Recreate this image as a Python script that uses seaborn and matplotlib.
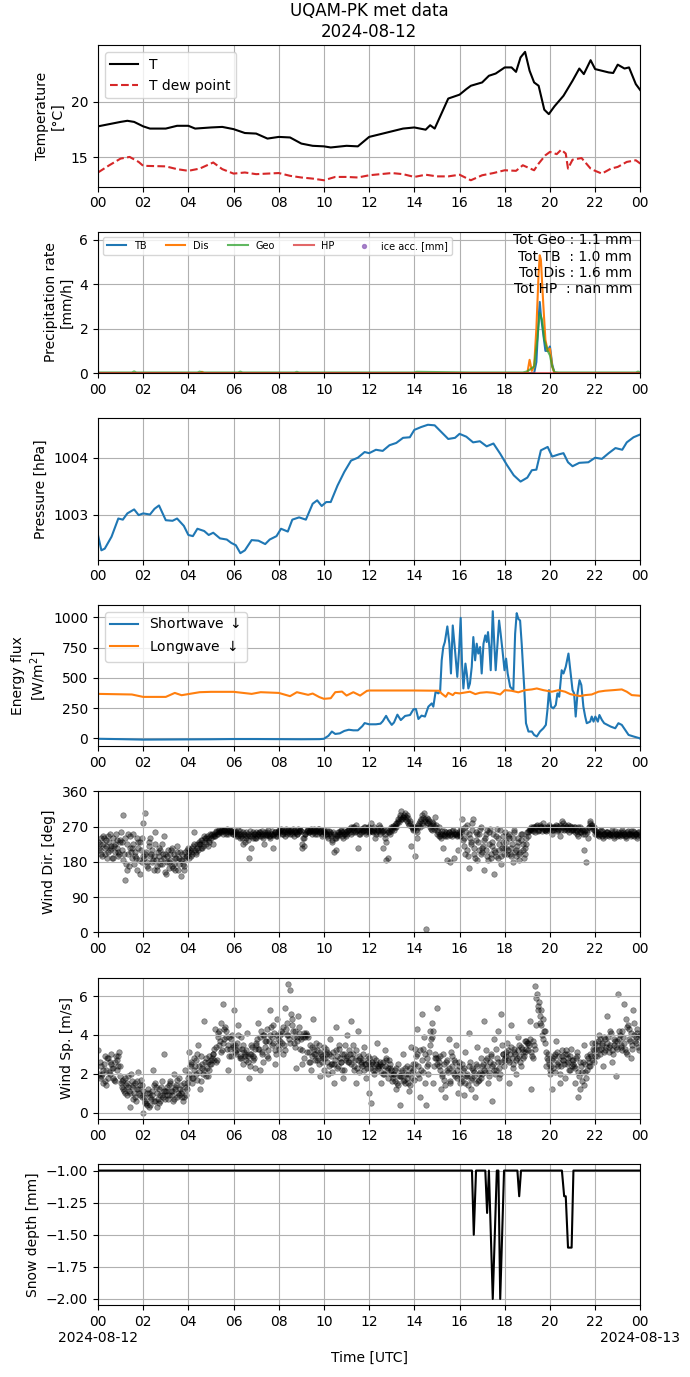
import numpy as np
import pandas as pd
import matplotlib
matplotlib.use("Agg")
import matplotlib.pyplot as plt
import matplotlib.dates as mdates
import matplotlib.ticker as mticker
import seaborn as sns

day = pd.Timestamp("2024-08-12")

# Temperature and dew point (hours, degC)
t_hours = [0, 0.5, 1, 1.3, 1.6, 2, 2.3, 3, 3.5, 4, 4.3, 5, 5.5, 6, 6.5, 7, 7.5, 8, 8.5, 9,
           9.5, 10, 10.3, 11, 11.5, 12, 12.5, 13, 13.5, 14, 14.5, 14.7, 14.9, 15.5, 16, 16.3,
           16.5, 17, 17.3, 17.6, 18, 18.3, 18.5, 18.7, 18.9, 19.1, 19.3, 19.5, 19.75, 19.95,
           20.2, 20.6, 21, 21.3, 21.5, 21.8, 22, 22.3, 22.6, 22.8, 23, 23.3, 23.5, 23.8, 24]
temp = [17.8, 18.0, 18.2, 18.3, 18.2, 17.8, 17.6, 17.6, 17.85, 17.85, 17.6, 17.7, 17.75,
        17.55, 17.2, 17.15, 16.7, 16.85, 16.8, 16.25, 16.05, 16.0, 15.9, 16.05, 16.0, 16.85,
        17.1, 17.35, 17.6, 17.7, 17.5, 17.9, 17.6, 20.3, 20.65, 21.15, 21.45, 21.75, 22.35,
        22.55, 23.1, 23.1, 22.7, 24.0, 24.5, 22.8, 21.75, 21.45, 19.3, 18.9, 19.6, 20.55,
        21.9, 23.0, 22.5, 23.75, 22.95, 22.8, 22.65, 22.6, 23.35, 23.0, 23.1, 21.6, 21.05]
td_hours = [0, 0.5, 1, 1.4, 1.8, 2, 3, 3.5, 4, 4.5, 5.1, 5.5, 6, 6.5, 7, 8, 8.5, 9, 9.5, 10,
            10.5, 11, 11.5, 12, 13, 13.5, 14, 14.5, 15, 15.5, 16, 16.5, 17, 17.5, 18, 18.5,
            18.8, 19.3, 19.5, 19.8, 20, 20.3, 20.5, 20.7, 20.8, 21, 21.4, 21.8, 22, 22.3,
            22.7, 23, 23.4, 23.8, 24]
tdew = [13.65, 14.3, 14.9, 15.05, 14.6, 14.25, 14.2, 13.95, 13.8, 14.0, 14.55, 13.95, 13.55,
        13.65, 13.5, 13.6, 13.35, 13.2, 13.1, 12.95, 13.25, 13.25, 13.2, 13.4, 13.6, 13.5,
        13.25, 13.45, 13.3, 13.3, 13.45, 12.95, 13.4, 13.6, 13.85, 13.8, 14.3, 13.85, 14.45,
        15.2, 15.5, 15.3, 15.7, 15.35, 14.0, 14.8, 14.95, 14.0, 13.8, 13.55, 14.0, 14.15,
        14.6, 14.75, 14.45]

# Precipitation rate (mm/h)
tb_hours = [0, 19.3, 19.4, 19.5, 19.55, 19.6, 19.7, 19.8, 19.9, 20.0, 20.1, 20.2, 24]
tb = [0, 0, 0.5, 2.5, 3.2, 2.6, 1.8, 1.0, 1.0, 1.2, 0.4, 0, 0]
dis_hours = [0, 4.5, 4.6, 4.7, 19.0, 19.1, 19.2, 19.3, 19.4, 19.5, 19.55, 19.6, 19.7, 19.8,
             19.9, 20.0, 20.1, 20.2, 24]
dis = [0, 0, 0.06, 0, 0, 0.6, 0.1, 0.3, 2.0, 4.5, 5.3, 5.1, 3.2, 1.5, 1.0, 1.1, 0.3, 0, 0]
geo_hours = [0, 1.5, 1.6, 1.7, 4.4, 4.5, 4.6, 6.2, 6.3, 6.4, 8.7, 8.8, 8.9, 14.0, 14.1, 16.5,
             18.8, 19.0, 19.3, 19.45, 19.55, 19.65, 19.75, 19.9, 20.0, 20.1, 20.2, 20.4,
             23.8, 23.9, 24]
geo = [0.03, 0.03, 0.08, 0.03, 0.03, 0.07, 0.03, 0.03, 0.07, 0.03, 0.03, 0.06, 0.03, 0.03,
       0.06, 0.03, 0.03, 0.08, 0.3, 1.6, 2.7, 2.4, 1.5, 1.0, 0.8, 0.3, 0.05, 0.03, 0.03,
       0.07, 0.03]
hp_hours = [0, 24]
hp = [0, 0]
ice_acc = [np.nan, np.nan]
tot_text = "Tot Geo : 1.1 mm\nTot TB  : 1.0 mm\nTot Dis : 1.6 mm\nTot HP  : nan mm"

# Pressure (hPa)
p_hours = [0, 0.15, 0.3, 0.6, 0.9, 1.1, 1.3, 1.6, 1.8, 2.0, 2.3, 2.5, 2.7, 3.0, 3.3, 3.5,
           3.8, 4.0, 4.2, 4.4, 4.7, 4.9, 5.1, 5.4, 5.7, 5.9, 6.1, 6.3, 6.5, 6.8, 7.1, 7.4,
           7.6, 7.9, 8.1, 8.4, 8.6, 8.9, 9.2, 9.5, 9.7, 9.9, 10.1, 10.3, 10.6, 10.9, 11.2,
           11.5, 11.8, 12.0, 12.3, 12.6, 12.9, 13.2, 13.5, 13.8, 14.0, 14.3, 14.6, 14.9,
           15.2, 15.5, 15.8, 16.0, 16.3, 16.6, 16.9, 17.2, 17.5, 17.8, 18.1, 18.4, 18.7,
           19.0, 19.2, 19.4, 19.6, 19.9, 20.1, 20.4, 20.6, 20.8, 21.0, 21.3, 21.7, 22.0,
           22.3, 22.6, 22.9, 23.2, 23.4, 23.7, 24.0]
pres = [1002.64, 1002.37, 1002.40, 1002.61, 1002.93, 1002.91, 1003.02, 1003.09, 1002.99,
        1003.02, 1003.00, 1003.10, 1003.16, 1002.90, 1002.89, 1002.93, 1002.80, 1002.64,
        1002.62, 1002.75, 1002.71, 1002.64, 1002.68, 1002.58, 1002.56, 1002.50, 1002.46,
        1002.32, 1002.37, 1002.55, 1002.54, 1002.48, 1002.56, 1002.62, 1002.75, 1002.70,
        1002.91, 1002.95, 1002.91, 1003.19, 1003.25, 1003.15, 1003.22, 1003.22, 1003.51,
        1003.75, 1003.95, 1004.00, 1004.10, 1004.08, 1004.14, 1004.12, 1004.22, 1004.26,
        1004.35, 1004.36, 1004.49, 1004.54, 1004.58, 1004.57, 1004.45, 1004.33, 1004.35,
        1004.42, 1004.37, 1004.27, 1004.29, 1004.20, 1004.25, 1004.07, 1003.87, 1003.69,
        1003.58, 1003.65, 1003.78, 1003.79, 1004.13, 1004.19, 1004.02, 1004.06, 1004.08,
        1003.92, 1003.85, 1003.91, 1003.92, 1004.00, 1003.98, 1004.08, 1004.17, 1004.14,
        1004.27, 1004.36, 1004.41]

# Radiation (W/m2)
sw_hours = [0, 1, 2, 3, 4, 5, 6, 7, 8, 9, 9.8, 10.0, 10.2, 10.35, 10.5, 10.7, 10.9, 11.1,
            11.3, 11.5, 11.7, 11.8, 12.0, 12.3, 12.5, 12.6, 12.75, 12.85, 13.0, 13.1, 13.25,
            13.4, 13.59, 13.81, 13.96, 14.07, 14.18, 14.32, 14.47, 14.62, 14.77, 14.84,
            14.94, 15.06, 15.14, 15.21, 15.28, 15.35, 15.46, 15.55, 15.62, 15.7, 15.8, 15.9,
            15.98, 16.05, 16.11, 16.17, 16.26, 16.32, 16.39, 16.46, 16.54, 16.61, 16.69,
            16.76, 16.83, 16.91, 16.98, 17.06, 17.14, 17.2, 17.26, 17.32, 17.38, 17.47,
            17.53, 17.6, 17.68, 17.75, 17.82, 17.9, 17.99, 18.06, 18.13, 18.24, 18.38,
            18.46, 18.53, 18.6, 18.68, 18.75, 18.86, 18.94, 19.05, 19.2, 19.3, 19.42, 19.56,
            19.71, 19.82, 19.89, 19.96, 20.05, 20.15, 20.26, 20.33, 20.41, 20.52, 20.6,
            20.7, 20.82, 20.92, 21.0, 21.07, 21.14, 21.22, 21.31, 21.39, 21.48, 21.56,
            21.63, 21.78, 21.85, 21.93, 22.01, 22.12, 22.19, 22.3, 22.4, 22.55, 22.69,
            22.89, 23.03, 23.18, 23.33, 23.48, 23.7, 23.96, 24]
sw = [-5, -8, -12, -11, -10, -9, -7, -7, -8, -9, -8, -5, 20, 55, 35, 40, 60, 70, 65, 65, 100,
      125, 115, 115, 120, 140, 185, 150, 110, 130, 195, 150, 184, 192, 239, 242, 159, 187,
      179, 261, 288, 261, 385, 371, 385, 645, 755, 797, 926, 783, 536, 934, 728, 508, 728,
      997, 618, 412, 618, 536, 412, 453, 591, 838, 645, 783, 701, 755, 536, 783, 852, 797,
      879, 755, 563, 1052, 810, 563, 783, 975, 865, 728, 563, 659, 536, 426, 398, 865,
      1036, 989, 975, 783, 426, 124, 55, 55, 27, 14, 55, 82, 110, 234, 398, 261, 247, 275,
      371, 343, 563, 536, 591, 701, 536, 398, 371, 179, 371, 481, 440, 261, 179, 124, 137,
      179, 137, 179, 137, 192, 151, 124, 110, 96, 82, 124, 110, 69, 27, 14, 0, -5]
lw_hours = [0, 1.5, 2, 3, 3.4, 3.7, 4.5, 5, 6, 6.8, 7.2, 8, 8.5, 8.8, 9.3, 9.5, 9.8, 10, 10.3,
            10.5, 10.8, 11, 11.3, 11.6, 11.9, 12, 14, 15.1, 15.2, 15.39, 15.5, 15.7, 15.8,
            16.0, 16.46, 16.7, 16.9, 17.2, 17.5, 17.8, 18.0, 18.3, 18.6, 18.9, 19.2, 19.42,
            19.71, 20.08, 20.38, 20.67, 20.9, 21.1, 21.33, 21.56, 21.85, 22.15, 22.44, 22.8,
            23.18, 23.4, 23.62, 23.96, 24]
lw = [367, 362, 342, 342, 375, 356, 381, 384, 384, 367, 381, 375, 348, 381, 359, 370, 340,
      326, 331, 381, 386, 353, 381, 353, 392, 395, 395, 393, 371, 343, 376, 357, 376, 371,
      385, 365, 376, 381, 376, 362, 398, 393, 380, 398, 404, 412, 398, 385, 398, 385, 365,
      357, 349, 357, 362, 385, 393, 398, 404, 385, 357, 352, 350]

# Wind direction (deg), three 5-minute reading sets, one row per hour
wdir_a = [
    230, 210, 195, 240, 220, 205, 250, 215, 190, 225, 235, 200,
    255, 300, 135, 160, 200, 245, 215, 175, 190, 230, 150, 240,
    280, 305, 170, 220, 200, 185, 255, 160, 195, 210, 175, 245,
    150, 210, 185, 170, 200, 160, 220, 190, 145, 175, 205, 195,
    190, 205, 215, 255, 200, 210, 225, 215, 230, 240, 220, 235,
    240, 225, 245, 250, 255, 260, 258, 262, 255, 250, 260, 258,
    255, 245, 260, 240, 250, 225, 230, 245, 190, 215, 255, 240,
    240, 250, 255, 245, 225, 250, 260, 240, 250, 215, 255, 245,
    260, 265, 250, 245, 255, 260, 258, 250, 245, 255, 265, 260,
    215, 220, 250, 260, 255, 265, 260, 250, 258, 265, 255, 245,
    260, 250, 240, 255, 230, 205, 210, 245, 255, 260, 240, 250,
    250, 265, 270, 255, 260, 275, 215, 250, 265, 270, 255, 260,
    270, 280, 255, 240, 265, 275, 260, 215, 250, 185, 190, 250,
    265, 260, 280, 290, 300, 310, 295, 305, 285, 275, 220, 265,
    195, 240, 270, 285, 300, 305, 10, 290, 275, 260, 280, 295,
    250, 270, 240, 215, 245, 185, 255, 180, 245, 190, 250, 210,
    260, 290, 240, 200, 275, 165, 230, 290, 190, 250, 210, 270,
    205, 160, 250, 185, 265, 220, 150, 195, 240, 210, 175, 230,
    255, 200, 240, 215, 180, 260, 195, 230, 205, 250, 190, 225,
    245, 260, 265, 270, 255, 275, 260, 268, 280, 262, 258, 270,
    265, 250, 270, 275, 260, 245, 285, 280, 265, 270, 255, 260,
    265, 255, 250, 245, 270, 265, 210, 180, 240, 285, 275, 270,
    250, 255, 245, 260, 240, 250, 255, 245, 250, 260, 240, 250,
    255, 245, 260, 250, 240, 255, 250, 245, 258, 250, 240, 255,
]
wdir_b = [
    215, 240, 225, 200, 235, 245, 210, 190, 220, 250, 205, 230,
    210, 185, 240, 225, 170, 205, 250, 195, 160, 215, 230, 180,
    190, 205, 165, 240, 180, 195, 225, 170, 215, 185, 200, 155,
    180, 165, 200, 215, 175, 190, 160, 205, 185, 170, 195, 210,
    205, 195, 220, 210, 225, 230, 215, 235, 245, 225, 240, 250,
    250, 245, 255, 258, 262, 255, 250, 260, 265, 255, 258, 250,
    250, 255, 245, 258, 240, 250, 255, 235, 245, 250, 240, 250,
    245, 255, 250, 240, 255, 248, 252, 245, 258, 250, 245, 255,
    255, 250, 262, 258, 250, 255, 260, 265, 255, 250, 258, 262,
    225, 240, 255, 262, 258, 252, 265, 258, 250, 255, 262, 258,
    255, 245, 258, 250, 235, 250, 240, 255, 250, 245, 258, 255,
    258, 262, 250, 268, 255, 262, 250, 265, 258, 262, 250, 268,
    262, 258, 270, 255, 262, 250, 265, 258, 240, 262, 255, 270,
    270, 275, 268, 285, 295, 290, 300, 295, 280, 285, 270, 262,
    270, 255, 280, 290, 275, 285, 292, 280, 270, 282, 265, 275,
    255, 245, 250, 258, 250, 245, 255, 250, 260, 250, 245, 255,
    245, 265, 220, 255, 195, 240, 260, 215, 235, 185, 250, 200,
    220, 240, 195, 255, 200, 230, 210, 245, 190, 260, 215, 200,
    230, 210, 250, 195, 240, 205, 220, 185, 235, 210, 200, 240,
    255, 265, 262, 270, 268, 258, 275, 270, 265, 262, 270, 275,
    270, 262, 268, 258, 265, 275, 270, 262, 268, 275, 270, 262,
    262, 270, 258, 265, 255, 250, 262, 255, 270, 280, 268, 260,
    255, 248, 252, 258, 250, 245, 255, 250, 248, 252, 258, 245,
    250, 255, 248, 252, 245, 258, 252, 248, 255, 250, 245, 250,
]
wdir_c = [
    225, 200, 245, 215, 190, 230, 220, 240, 205, 215, 195, 235,
    230, 200, 175, 250, 215, 190, 225, 205, 240, 185, 210, 195,
    200, 180, 230, 195, 210, 160, 185, 205, 175, 225, 190, 200,
    195, 180, 210, 165, 190, 205, 175, 185, 200, 160, 190, 215,
    210, 200, 225, 205, 215, 225, 235, 220, 240, 245, 230, 248,
    245, 252, 258, 250, 255, 262, 260, 252, 258, 262, 255, 252,
    258, 250, 252, 245, 255, 248, 240, 252, 258, 245, 250, 255,
    250, 245, 258, 252, 248, 255, 245, 252, 248, 255, 250, 258,
    262, 258, 255, 265, 260, 252, 255, 258, 262, 250, 255, 258,
    240, 250, 258, 255, 262, 258, 255, 262, 265, 258, 250, 255,
    250, 258, 252, 245, 255, 240, 248, 252, 258, 255, 250, 245,
    262, 255, 265, 270, 258, 265, 260, 255, 262, 268, 258, 255,
    258, 265, 262, 250, 258, 268, 255, 262, 230, 255, 265, 258,
    272, 268, 278, 282, 290, 295, 288, 300, 292, 278, 268, 270,
    262, 275, 268, 280, 292, 288, 278, 285, 265, 275, 270, 262,
    245, 252, 258, 248, 255, 250, 248, 258, 250, 255, 248, 252,
    255, 235, 270, 210, 250, 225, 280, 200, 255, 230, 265, 215,
    235, 210, 260, 225, 190, 250, 205, 265, 225, 195, 245, 215,
    215, 245, 200, 225, 255, 210, 240, 200, 250, 225, 215, 255,
    262, 270, 258, 265, 272, 262, 268, 258, 270, 265, 260, 268,
    262, 270, 265, 272, 268, 260, 270, 275, 262, 265, 272, 268,
    270, 262, 268, 255, 262, 258, 250, 262, 268, 275, 265, 262,
    250, 252, 258, 245, 252, 255, 248, 252, 255, 245, 250, 252,
    248, 252, 255, 245, 250, 252, 258, 250, 245, 252, 255, 248,
]

# Wind speed (m/s), same layout
wspd_a = [
    3.2, 1.8, 2.0, 2.5, 1.4, 2.8, 2.0, 3.0, 2.3, 1.6, 2.7, 3.1,
    1.5, 1.2, 1.8, 0.9, 1.3, 0.3, 1.6, 1.0, 0.6, 2.1, 1.4, 0.8,
    0.0, 0.5, 0.4, 1.0, 0.7, 2.2, 1.5, 0.3, 1.2, 0.6, 0.9, 3.0,
    1.1, 0.7, 1.5, 0.9, 2.0, 1.3, 0.8, 1.8, 1.0, 0.6, 2.2, 1.5,
    3.1, 2.5, 1.5, 2.8, 2.0, 3.5, 1.2, 2.3, 4.7, 1.9, 2.6, 2.2,
    2.5, 3.0, 4.3, 2.7, 3.5, 4.6, 5.6, 3.8, 4.2, 2.2, 3.3, 4.0,
    5.3, 3.2, 4.5, 2.8, 3.9, 2.5, 3.0, 4.1, 1.8, 3.5, 2.9, 2.3,
    3.5, 4.6, 2.2, 3.0, 4.0, 3.7, 2.8, 5.3, 3.9, 4.5, 2.5, 4.8,
    3.3, 4.2, 3.0, 5.4, 4.0, 6.6, 6.3, 4.8, 3.6, 2.3, 5.0, 3.9,
    2.5, 4.1, 3.9, 4.0, 3.1, 2.2, 4.8, 3.0, 2.7, 3.5, 1.9, 2.9,
    2.2, 3.0, 2.0, 3.8, 2.5, 1.5, 4.4, 2.9, 3.3, 2.6, 1.8, 3.5,
    4.0, 2.6, 4.7, 3.0, 2.2, 1.5, 4.2, 2.8, 2.4, 3.4, 1.8, 2.9,
    1.0, 0.5, 2.5, 2.2, 3.6, 2.4, 1.5, 2.0, 3.2, 2.8, 1.8, 2.3,
    1.6, 2.0, 1.2, 2.5, 0.4, 1.9, 3.0, 1.5, 2.4, 1.1, 3.4, 2.2,
    3.3, 4.3, 2.0, 0.8, 5.1, 3.9, 0.4, 2.5, 4.2, 4.6, 1.5, 3.0,
    5.4, 2.6, 1.2, 3.0, 0.8, 2.2, 3.8, 1.6, 2.9, 2.0, 3.5, 1.0,
    1.5, 2.5, 0.9, 3.1, 1.9, 4.1, 1.2, 2.2, 0.8, 3.4, 1.7, 2.8,
    2.0, 4.7, 3.2, 1.5, 2.6, 0.6, 3.8, 2.2, 4.2, 1.8, 5.1, 3.0,
    2.8, 3.6, 1.5, 4.5, 2.3, 3.1, 2.0, 3.9, 2.6, 3.3, 2.9, 3.7,
    3.6, 4.7, 1.2, 2.8, 6.5, 6.1, 5.7, 5.3, 4.8, 4.2, 2.4, 3.0,
    2.0, 1.2, 2.9, 3.7, 2.4, 1.5, 3.2, 2.7, 1.8, 3.0, 2.2, 3.3,
    2.5, 1.5, 3.1, 0.8, 1.2, 2.1, 3.5, 1.8, 2.8, 2.4, 3.6, 2.6,
    3.6, 2.9, 4.0, 3.3, 2.4, 3.8, 5.0, 3.1, 4.2, 2.6, 3.5, 1.9,
    6.1, 4.0, 3.2, 5.6, 4.8, 3.0, 4.3, 2.8, 5.3, 3.7, 4.1, 3.2,
]
wspd_b = [
    2.0, 2.4, 1.5, 2.9, 2.2, 1.8, 2.6, 2.3, 1.7, 2.9, 2.4, 1.9,
    1.3, 1.7, 1.0, 1.5, 1.1, 2.0, 1.4, 0.8, 1.6, 1.2, 0.9, 1.4,
    0.8, 0.5, 1.2, 0.4, 0.9, 1.4, 0.6, 1.0, 0.5, 1.3, 0.8, 1.1,
    1.3, 0.9, 1.6, 1.1, 0.7, 1.4, 1.0, 1.2, 0.8, 1.5, 0.9, 1.2,
    2.0, 2.6, 1.8, 2.4, 3.0, 2.1, 1.6, 2.5, 2.2, 2.8, 1.9, 2.5,
    2.8, 3.3, 2.6, 3.9, 4.2, 3.1, 3.6, 4.4, 3.3, 3.9, 2.9, 3.5,
    3.5, 3.0, 4.0, 2.9, 3.3, 3.1, 2.7, 2.9, 2.4, 3.0, 2.7, 3.3,
    3.8, 3.3, 4.2, 2.6, 3.7, 4.3, 3.2, 4.0, 3.5, 4.1, 3.0, 3.8,
    4.0, 3.6, 4.4, 3.2, 4.6, 3.8, 5.1, 4.2, 3.4, 3.9, 4.1, 3.3,
    3.2, 2.8, 4.1, 3.9, 2.6, 3.4, 3.0, 2.7, 3.2, 2.5, 3.0, 2.8,
    2.8, 3.1, 2.4, 2.9, 2.1, 2.5, 3.2, 2.4, 2.8, 3.0, 2.2, 2.7,
    2.9, 3.2, 2.5, 3.5, 2.7, 2.3, 2.9, 2.5, 2.7, 2.2, 2.5, 2.6,
    2.3, 2.6, 2.0, 2.7, 2.4, 2.5, 2.1, 2.6, 2.4, 2.2, 2.7, 2.0,
    2.0, 1.6, 2.3, 1.4, 1.9, 2.2, 1.7, 2.0, 1.5, 2.3, 1.8, 2.5,
    2.5, 3.0, 1.8, 2.2, 3.3, 1.5, 2.8, 2.0, 3.5, 3.9, 2.4, 2.8,
    2.8, 2.2, 1.9, 2.5, 1.4, 2.7, 2.3, 3.1, 2.1, 2.6, 1.8, 2.4,
    2.0, 1.6, 2.3, 1.9, 1.4, 2.6, 1.8, 2.1, 1.5, 2.4, 2.0, 1.8,
    2.5, 2.1, 2.8, 1.9, 3.0, 2.4, 2.2, 3.3, 2.6, 2.0, 3.5, 2.7,
    2.9, 3.2, 2.6, 3.4, 2.5, 3.0, 2.8, 3.5, 2.4, 3.1, 3.7, 3.3,
    3.2, 3.8, 2.9, 3.5, 4.5, 5.5, 5.0, 4.5, 3.8, 3.6, 2.8, 2.5,
    2.4, 2.8, 2.1, 3.1, 2.6, 2.0, 2.9, 2.5, 3.2, 2.6, 2.9, 2.4,
    2.7, 2.3, 2.9, 1.9, 2.4, 2.6, 2.1, 2.9, 2.4, 3.0, 2.7, 3.2,
    3.3, 3.7, 3.0, 3.5, 3.9, 3.2, 3.6, 3.4, 4.1, 3.0, 3.7, 3.3,
    3.8, 3.4, 4.2, 3.6, 3.1, 4.5, 3.7, 3.3, 4.0, 3.6, 4.3, 3.9,
]
wspd_c = [
    2.6, 1.9, 2.2, 1.6, 2.8, 2.1, 2.5, 1.8, 2.6, 2.2, 2.9, 2.4,
    1.6, 1.1, 1.4, 1.9, 1.0, 1.3, 0.7, 1.5, 1.2, 1.0, 1.7, 1.1,
    0.6, 1.0, 0.3, 0.8, 1.1, 0.6, 1.3, 0.7, 0.9, 1.6, 1.1, 0.7,
    0.9, 1.4, 1.1, 0.6, 1.2, 1.7, 0.9, 1.4, 1.1, 0.8, 1.3, 1.8,
    2.4, 1.8, 2.2, 2.7, 1.7, 2.4, 2.9, 2.0, 2.6, 2.3, 2.9, 2.7,
    3.0, 2.7, 3.4, 4.1, 3.7, 3.2, 4.3, 3.9, 3.5, 2.9, 3.8, 3.4,
    3.1, 3.6, 3.3, 2.8, 3.5, 2.9, 3.2, 2.6, 3.0, 3.4, 2.8, 3.6,
    3.3, 3.9, 3.1, 4.0, 3.4, 2.9, 3.7, 4.4, 3.6, 3.2, 4.0, 3.5,
    3.7, 4.1, 3.5, 4.3, 4.0, 3.6, 4.5, 3.9, 4.2, 3.7, 4.4, 3.8,
    3.9, 4.0, 3.1, 2.6, 3.5, 2.9, 3.3, 3.6, 2.8, 3.1, 2.6, 3.4,
    3.3, 2.6, 3.0, 2.5, 3.1, 2.7, 2.3, 3.5, 2.6, 2.2, 3.0, 2.8,
    2.6, 3.0, 2.8, 2.4, 3.2, 2.7, 2.1, 2.6, 3.0, 2.5, 2.3, 2.8,
    2.5, 2.2, 2.8, 2.5, 2.3, 2.6, 2.4, 2.0, 2.7, 2.3, 2.5, 2.2,
    1.8, 2.2, 1.5, 1.9, 2.1, 1.6, 2.3, 1.8, 2.0, 1.4, 2.1, 1.7,
    2.9, 2.4, 3.2, 2.7, 2.1, 3.0, 2.4, 3.1, 3.8, 4.2, 2.8, 2.5,
    2.4, 2.9, 2.0, 1.7, 2.6, 2.1, 1.5, 2.4, 2.7, 1.9, 2.2, 2.6,
    1.8, 2.2, 1.5, 2.0, 2.4, 1.7, 2.3, 1.9, 2.5, 1.6, 2.1, 2.4,
    2.2, 2.7, 2.4, 2.1, 2.9, 2.5, 2.0, 2.8, 2.3, 2.6, 3.0, 2.4,
    3.1, 2.7, 3.0, 2.8, 3.3, 2.7, 3.2, 2.9, 3.4, 2.8, 3.1, 3.6,
    3.5, 3.1, 3.7, 3.3, 5.9, 5.3, 4.6, 4.0, 4.2, 3.1, 2.7, 2.2,
    2.7, 2.3, 3.0, 2.5, 2.9, 2.4, 2.7, 3.0, 2.5, 2.8, 2.2, 2.7,
    2.4, 2.8, 2.1, 2.6, 1.6, 1.4, 2.5, 2.2, 2.6, 2.9, 3.3, 2.9,
    3.5, 3.2, 3.8, 3.6, 3.1, 3.4, 3.9, 3.5, 3.2, 3.8, 3.4, 3.7,
    4.2, 3.5, 3.9, 3.3, 4.4, 3.8, 4.1, 3.5, 4.6, 3.9, 3.4, 4.0,
]

# Snow depth (mm)
snow_hours = [0, 16.55, 16.63, 16.73, 17.14, 17.22, 17.3, 17.47, 17.65, 17.72, 17.8, 17.97,
              18.56, 18.64, 18.72, 20.53, 20.63, 20.7, 20.8, 20.96, 21.04, 24]
snow = [-1, -1, -1.5, -1, -1, -1.33, -1, -2, -1, -1, -2, -1, -1, -1.2, -1, -1, -1.2, -1.2,
        -1.6, -1.6, -1, -1]


def to_time(hours):
    return day + pd.to_timedelta(np.asarray(hours, dtype=float), unit="h")


def wind_times(n, offset_min):
    return day + pd.to_timedelta(np.arange(n) * 5 + offset_min, unit="min")


n5 = len(wdir_a)
wind = pd.DataFrame({
    "time": np.concatenate([wind_times(n5, 0.8), wind_times(n5, 2.5), wind_times(n5, 4.2)]),
    "wdir": wdir_a + wdir_b + wdir_c,
    "wspd": wspd_a + wspd_b + wspd_c,
})

fig, axes = plt.subplots(7, 1, figsize=(6.9, 13.77))
fig.subplots_adjust(left=0.142, right=0.928, top=0.967, bottom=0.052, hspace=0.32)

# Temperature
ax = axes[0]
sns.lineplot(x=to_time(t_hours), y=temp, ax=ax, color="k", label="T")
sns.lineplot(x=to_time(td_hours), y=tdew, ax=ax, color="tab:red", linestyle="--",
             label="T dew point")
ax.set_yticks([15, 20])
ax.set_ylabel("Temperature\n[°C]")
ax.legend(loc="upper left", fontsize=10)
ax.set_title("UQAM-PK met data\n2024-08-12")

# Precipitation
ax = axes[1]
sns.lineplot(x=to_time(tb_hours), y=tb, ax=ax, color="tab:blue", label="TB")
sns.lineplot(x=to_time(dis_hours), y=dis, ax=ax, color="tab:orange", label="Dis")
sns.lineplot(x=to_time(geo_hours), y=geo, ax=ax, color="tab:green", alpha=0.75, label="Geo")
sns.lineplot(x=to_time(hp_hours), y=hp, ax=ax, color="tab:red", alpha=0.7, label="HP")
ax.scatter(to_time(hp_hours), ice_acc, color="tab:purple", s=8, alpha=0.8, label="ice acc. [mm]")
ax.set_ylim(0, 6.35)
ax.set_ylabel("Precipitation rate\n[mm/h]")
ax.legend(loc="upper left", ncol=5, fontsize=7)
ax.text(0.985, 0.99, tot_text, transform=ax.transAxes, ha="right", va="top",
        multialignment="right", fontsize=10)

# Pressure
ax = axes[2]
sns.lineplot(x=to_time(p_hours), y=pres, ax=ax, color="tab:blue")
ax.set_yticks([1003, 1004])
ax.yaxis.set_major_formatter(mticker.FormatStrFormatter("%d"))
ax.set_ylabel("Pressure [hPa]")

# Radiation
ax = axes[3]
sns.lineplot(x=to_time(sw_hours), y=sw, ax=ax, color="tab:blue", label=r"Shortwave $\downarrow$")
sns.lineplot(x=to_time(lw_hours), y=lw, ax=ax, color="tab:orange", label=r"Longwave $\downarrow$")
ax.set_yticks([0, 250, 500, 750, 1000])
ax.set_ylabel("Energy flux\n[W/m$^2$]")
ax.legend(loc="upper left", fontsize=10)

# Wind direction
ax = axes[4]
sns.scatterplot(data=wind, x="time", y="wdir", ax=ax, color="k", alpha=0.4, s=16,
                edgecolor="k", linewidth=0.5)
ax.set_ylim(0, 360)
ax.set_yticks([0, 90, 180, 270, 360])
ax.set_ylabel("Wind Dir. [deg]")

# Wind speed
ax = axes[5]
sns.scatterplot(data=wind, x="time", y="wspd", ax=ax, color="k", alpha=0.4, s=16,
                edgecolor="k", linewidth=0.5)
ax.set_ylim(-0.33, 6.95)
ax.set_yticks([0, 2, 4, 6])
ax.set_ylabel("Wind Sp. [m/s]")

# Snow depth
ax = axes[6]
sns.lineplot(x=to_time(snow_hours), y=snow, ax=ax, color="k")
ax.set_yticks([-2.0, -1.75, -1.5, -1.25, -1.0])
ax.set_ylabel("Snow depth [mm]")
ax.set_xlabel("Time [UTC]")


def bottom_fmt(x, pos=None):
    d = mdates.num2date(x)
    if d.hour == 0:
        return d.strftime("%H\n%Y-%m-%d")
    return d.strftime("%H")


for i, ax in enumerate(axes):
    ax.set_xlim(day, day + pd.Timedelta(days=1))
    ax.xaxis.set_major_locator(mdates.HourLocator(byhour=range(0, 24, 2)))
    if i == len(axes) - 1:
        ax.xaxis.set_major_formatter(mticker.FuncFormatter(bottom_fmt))
    else:
        ax.xaxis.set_major_formatter(mdates.DateFormatter("%H"))
        ax.set_xlabel("")
    ax.grid(True)

fig.savefig("out.png", dpi=100)
